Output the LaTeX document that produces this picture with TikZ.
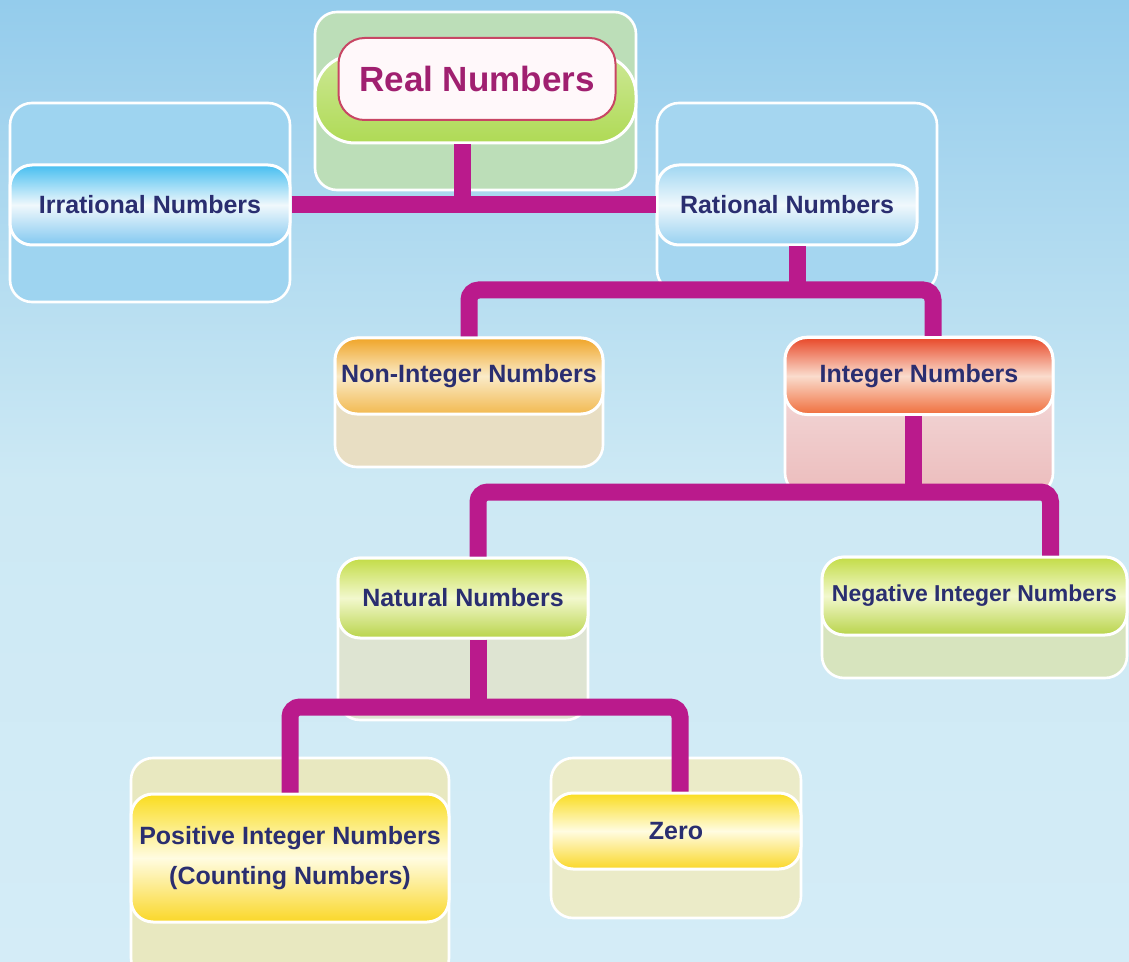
\documentclass[tikz,border=0pt]{standalone}
\usepackage{fontspec}
\setmainfont{Liberation Sans}
\usepackage{tikz}
\usetikzlibrary{arrows}

\definecolor{bgtop}{RGB}{148,204,236}
\definecolor{bgmid}{RGB}{205,233,244}
\definecolor{bgbot}{RGB}{212,236,247}
\definecolor{linkc}{RGB}{186,26,140}
\definecolor{navy}{RGB}{42,46,112}
\definecolor{realtxt}{RGB}{160,32,112}

\begin{document}
\begin{tikzpicture}[x=0.5pt,y=0.5pt,yscale=-1,xscale=1,
  panel/.style={draw=white, line width=1.3pt, rounded corners=11pt},
  pill/.style={draw=white, line width=1.5pt, rounded corners=11pt, inner sep=0pt, text=navy, align=center,
    font=\fontsize{12.5}{20}\selectfont\bfseries},
  bluepill/.style={pill, top color={rgb,255:red,70;green,190;blue,240}, bottom color={rgb,255:red,130;green,200;blue,240}, middle color={rgb,255:red,240;green,248;blue,252}},
  palepill/.style={pill, top color={rgb,255:red,160;green,215;blue,242}, bottom color={rgb,255:red,150;green,208;blue,240}, middle color={rgb,255:red,240;green,248;blue,252}},
  orangepill/.style={pill, top color={rgb,255:red,240;green,165;blue,40}, bottom color={rgb,255:red,242;green,185;blue,80}, middle color={rgb,255:red,250;green,235;blue,200}},
  redpill/.style={pill, top color={rgb,255:red,232;green,72;blue,40}, bottom color={rgb,255:red,240;green,110;blue,60}, middle color={rgb,255:red,250;green,220;blue,205}},
  greenpill/.style={pill, top color={rgb,255:red,195;green,220;blue,70}, bottom color={rgb,255:red,185;green,212;blue,75}, middle color={rgb,255:red,242;green,248;blue,205}},
  yellowpill/.style={pill, top color={rgb,255:red,250;green,220;blue,30}, bottom color={rgb,255:red,250;green,215;blue,40}, middle color={rgb,255:red,255;green,252;blue,225}},
  link/.style={draw=linkc, line width=8.5pt, rounded corners=5pt}
]
%Shape: Rectangle [background]
\shade[top color=bgtop, bottom color=bgbot, middle color=bgmid] (0,0) rectangle (1129,962);
\useasboundingbox (0,0) rectangle (1129,962);

%Shape: Rounded Rect [back panels]
\path[panel, fill={rgb,255:red,188;green,222;blue,184}] (315,12) rectangle (636,190);
\path[panel, fill={rgb,255:red,158;green,212;blue,240}] (10,103) rectangle (290,302);
\path[panel, fill={rgb,255:red,165;green,214;blue,240}] (657,103) rectangle (937,292);
\path[panel, fill={rgb,255:red,232;green,222;blue,195}] (335,338) rectangle (603,467);
\path[panel, top color={rgb,255:red,245;green,228;blue,228}, bottom color={rgb,255:red,236;green,188;blue,188}] (785,337) rectangle (1053,495);
\path[panel, fill={rgb,255:red,222;green,228;blue,210}] (338,558) rectangle (588,720);
\path[panel, fill={rgb,255:red,215;green,228;blue,190}] (822,557) rectangle (1127,678);
\path[panel, fill={rgb,255:red,232;green,232;blue,192}] (131,758) rectangle (449,980);
\path[panel, fill={rgb,255:red,235;green,235;blue,200}] (551,758) rectangle (801,918);

%Shape: Rounded Rect [real]
\node[draw=white, line width=1.5pt, rounded corners=20pt, minimum width=160.5pt, minimum height=44pt,
  top color={rgb,255:red,205;green,232;blue,150}, bottom color={rgb,255:red,175;green,218;blue,85}] (realband) at (475.5,99) {};
\node[draw={rgb,255:red,200;green,70;blue,100}, line width=1pt, rounded corners=13pt, fill={rgb,255:red,255;green,248;blue,250},
  minimum width=138.5pt, minimum height=41pt, text=realtxt, font=\fontsize{17.5}{20}\selectfont\bfseries] (real) at (477,79) {Real Numbers};

%Shape: Rounded Rect [pills]
\node[bluepill, minimum width=140pt, minimum height=40pt] (irr) at (150,205) {Irrational Numbers};
\node[palepill, minimum width=130pt, minimum height=40pt] (rat) at (787,205) {Rational Numbers};
\node[orangepill, minimum width=134pt, minimum height=38pt] (nonint) at (469,376) {Non-Integer Numbers};
\node[redpill, minimum width=134pt, minimum height=38.5pt] (int) at (919,376) {Integer Numbers};
\node[greenpill, minimum width=125pt, minimum height=40pt] (nat) at (463,598) {Natural Numbers};
\node[greenpill, minimum width=152.5pt, minimum height=39pt, font=\fontsize{11.5}{14}\selectfont\bfseries] (neg) at (974.5,596) {Negative Integer Numbers};
\node[yellowpill, minimum width=159pt, minimum height=64pt] (pos) at (290,858) {Positive Integer Numbers\\(Counting Numbers)};
\node[yellowpill, minimum width=125pt, minimum height=38pt] (zero) at (676,831) {Zero};

%Straight Lines [forks]
\coordinate (realfork) at (462,205);
\coordinate (ratfork) at (797,290);
\coordinate (intfork) at (913,492);
\coordinate (natfork) at (478,707);

\draw[link] (irr.east) -- (rat.west);
\draw[link] (realband.south -| realfork) -- (realfork);

\draw[link] (rat.south -| ratfork) -- (ratfork);
\draw[link] (nonint.north) |- (ratfork) -| ([xshift=7pt]int.north);

\draw[link] (int.south -| intfork) -- (intfork);
\draw[link] ([xshift=7.5pt]nat.north) |- (intfork) -| ([xshift=38pt]neg.north);

\draw[link] (nat.south -| natfork) -- (natfork);
\draw[link] (pos.north) |- (natfork) -| ([xshift=2pt]zero.north);
\end{tikzpicture}
\end{document}
